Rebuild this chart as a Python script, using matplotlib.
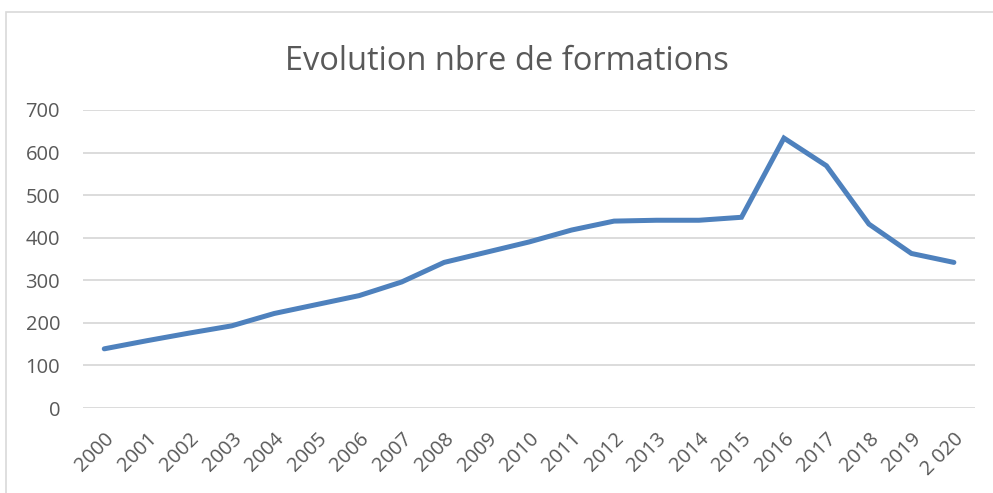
import matplotlib.pyplot as plt
from matplotlib.patches import Rectangle

years = ['2000', '2001', '2002', '2003', '2004', '2005', '2006', '2007', '2008', '2009',
         '2010', '2011', '2012', '2013', '2014', '2015', '2016', '2017', '2018', '2019', '2 020']
formations = [139, 158, 176, 193, 222, 243, 264, 296, 342, 366,
              390, 418, 439, 441, 441, 448, 634, 569, 432, 363, 342]

plt.rcParams['font.family'] = ['Open Sans', 'DejaVu Sans']
text_col = '#595959'

fig = plt.figure(figsize=(9.93, 4.93), dpi=100)
ax = fig.add_axes([0.0836, 0.1724, 0.8984, 0.6045])

x = list(range(len(years)))
ax.plot(x, formations, color='#4E81BD', linewidth=3.6, solid_capstyle='round',
        solid_joinstyle='miter', zorder=3)

ax.set_xlim(-0.5, len(years) - 0.5)
ax.set_ylim(0, 700)
ax.set_yticks(range(0, 701, 100))
ax.set_xticks(x)
ax.set_xticklabels(years, rotation=45, ha='right', va='top', rotation_mode='anchor')
ax.tick_params(axis='both', length=0, colors=text_col, labelsize=14.5)
ax.tick_params(axis='x', pad=15)
ax.tick_params(axis='y', pad=16.5)
ax.grid(axis='y', color='#D9D9D9', linewidth=1.3)
ax.set_axisbelow(True)
for s in ax.spines.values():
    s.set_visible(False)

fig.text(0.5105, 1 - 70 / 493, 'Evolution nbre de formations', ha='center', va='baseline',
         fontsize=23.5, color=text_col)

# chart area border (Excel style)
fig.patches.append(Rectangle((6 / 993, -0.1), 1.2, 1 - 12.5 / 493 + 0.1,
                             transform=fig.transFigure, fill=False,
                             edgecolor='#D9D9D9', linewidth=1.2))

fig.savefig('out.png', dpi=100)
